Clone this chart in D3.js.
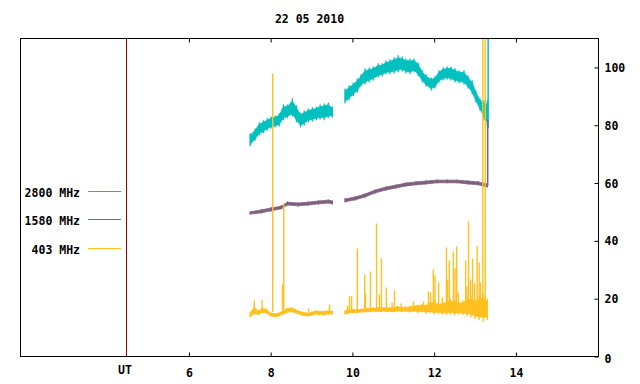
<!DOCTYPE html>
<html>
<head>
<meta charset="utf-8">
<script src="https://cdn.jsdelivr.net/npm/d3@7"></script>
<style>
  body { margin: 0; background: #fff }
  text { font-family: "DejaVu Sans Mono", monospace; font-weight: bold; font-size: 11.5px; fill: #000 }
</style>
</head>
<body>
<svg id="chart" width="640" height="384"></svg>
<script>
const title       = '22 05 2010'
const hourTicks   = [6, 8, 10, 12, 14]
const valueTicks  = [0, 20, 40, 60, 80, 100]
const utHour      = 4.45
const legendNames = ['2800 MHz', '1580 MHz', '403 MHz']
const colors      = ['#00c0c0', '#7f6080', '#ffc020']

// [hour, low, high]  -- null marks the data gap
const f2800 = [
  [7.50, 72.7, 77.2], [7.62, 74.7, 78.9], [7.72, 76.5, 81.0], [7.82, 77.2, 81.7],
  [7.92, 78.2, 82.4], [8.01, 78.9, 83.0], [8.11, 79.2, 83.4], [8.21, 79.6, 84.1],
  [8.31, 81.7, 87.2], [8.41, 82.4, 87.2], [8.53, 83.0, 89.3], [8.63, 81.0, 86.9],
  [8.73, 79.2, 84.4], [8.82, 79.9, 85.1], [8.92, 81.0, 85.8], [9.02, 81.3, 86.2],
  [9.12, 81.7, 86.5], [9.21, 82.0, 87.2], [9.31, 81.7, 87.5], [9.41, 82.4, 87.9],
  [9.51, 82.7, 86.5],
  null,
  [9.82, 87.5, 92.7], [9.92, 88.6, 93.8], [10.02, 90.0, 94.8], [10.12, 91.3, 96.2],
  [10.21, 93.4, 97.6], [10.31, 94.1, 99.7], [10.41, 94.8, 100.0], [10.51, 95.5, 100.3],
  [10.63, 96.5, 101.4], [10.73, 96.9, 101.4], [10.82, 97.6, 102.4], [10.92, 97.6, 102.8],
  [11.02, 97.9, 103.5], [11.12, 98.3, 104.2], [11.22, 98.6, 103.8], [11.31, 97.9, 103.1],
  [11.41, 97.6, 103.1], [11.51, 98.3, 103.1], [11.61, 96.9, 101.7], [11.71, 94.8, 99.0],
  [11.80, 93.4, 97.6], [11.93, 92.0, 96.5], [12.02, 92.7, 96.9], [12.12, 94.8, 99.0],
  [12.22, 95.5, 100.0], [12.32, 95.8, 100.3], [12.41, 95.5, 100.3], [12.51, 94.8, 99.7],
  [12.61, 94.5, 99.0], [12.73, 94.1, 99.0], [12.83, 92.7, 97.2], [12.93, 90.7, 95.5],
  [13.02, 87.9, 92.0], [13.12, 85.1, 89.3], [13.22, 81.7, 88.6], [13.30, 79.9, 88.6]
]
const f2800Burst = [13.32, 79, 130]

const f1580 = [
  [7.50, 49.1, 50.2], [7.77, 49.5, 50.9], [8.01, 50.2, 51.6], [8.26, 50.9, 52.2],
  [8.41, 52.2, 53.6], [8.67, 51.9, 53.3], [8.92, 52.2, 53.6], [9.17, 52.6, 54.0],
  [9.41, 52.9, 54.3], [9.51, 52.6, 54.0],
  null,
  [9.82, 53.3, 54.7], [10.07, 54.0, 55.4], [10.31, 55.0, 56.4], [10.56, 56.4, 57.8],
  [10.82, 57.4, 58.8], [11.07, 58.1, 59.5], [11.31, 58.8, 60.2], [11.56, 59.2, 60.6],
  [11.80, 59.5, 60.9], [12.07, 59.9, 61.2], [12.32, 59.9, 61.2], [12.56, 59.9, 61.2],
  [12.83, 59.5, 60.9], [13.08, 59.2, 60.6], [13.30, 58.5, 59.9]
]
const f1580Burst = [13.31, 59, 82]

const f403 = [
  [7.50, 13.5, 15.5], [7.60, 14.5, 17.5], [7.70, 14.3, 16.0], [7.80, 15.0, 17.0],
  [7.90, 14.8, 16.5], [8.00, 13.8, 15.2], [8.10, 13.6, 15.0], [8.20, 13.8, 15.2],
  [8.30, 14.5, 16.0], [8.40, 15.0, 16.8], [8.50, 15.3, 17.0], [8.60, 15.0, 16.5],
  [8.70, 14.5, 15.8], [8.80, 14.0, 15.5], [8.90, 13.8, 15.2], [9.00, 14.0, 15.5],
  [9.10, 14.5, 16.0], [9.20, 14.3, 15.8], [9.30, 14.2, 15.8], [9.40, 14.5, 16.0],
  [9.51, 14.5, 15.8],
  null,
  [9.82, 14.5, 16.0], [9.90, 14.8, 16.3], [10.00, 15.0, 16.5], [10.10, 15.0, 16.3],
  [10.20, 15.2, 16.5], [10.30, 15.2, 16.8], [10.40, 15.3, 16.8], [10.50, 15.5, 17.0],
  [10.60, 15.3, 17.0], [10.70, 15.5, 17.2], [10.80, 15.5, 17.0], [10.90, 15.3, 17.0],
  [11.00, 15.3, 17.2], [11.10, 15.5, 17.5], [11.20, 15.3, 17.2], [11.30, 15.5, 17.3],
  [11.40, 15.2, 17.5], [11.50, 15.5, 17.8], [11.60, 15.0, 18.0], [11.70, 15.3, 18.2],
  [11.80, 14.8, 18.0], [11.90, 15.0, 19.0], [12.00, 14.5, 19.5], [12.10, 14.8, 18.5],
  [12.20, 14.5, 19.0], [12.30, 14.3, 19.5], [12.40, 14.5, 20.0], [12.50, 14.2, 19.5],
  [12.60, 14.5, 19.0], [12.70, 14.3, 19.5], [12.80, 13.8, 20.5], [12.90, 13.5, 21.0],
  [13.00, 13.0, 20.0], [13.10, 12.5, 21.0], [13.20, 12.0, 22.0], [13.30, 12.5, 20.0]
]
// [hour, peak]
const f403Spikes = [
  [7.60, 19.4], [7.79, 19.6], [8.05, 97.9], [8.29, 24.9], [8.32, 53.0], [8.93, 16.6],
  [9.44, 18.0], [9.88, 17.6], [9.93, 20.8], [9.98, 20.8], [10.12, 37.4], [10.30, 28.4],
  [10.32, 21.8], [10.44, 29.4], [10.59, 46.0], [10.66, 21.5], [10.71, 33.9], [10.83, 23.9],
  [10.97, 18.7], [11.03, 22.8], [11.19, 18.3], [11.49, 19.0], [11.74, 19.0], [11.86, 22.5],
  [11.91, 22.1], [11.98, 30.1], [12.02, 28.0], [12.11, 25.6], [12.20, 20.4], [12.30, 37.7],
  [12.33, 26.6], [12.37, 33.2], [12.42, 19.0], [12.47, 36.3], [12.51, 30.4], [12.55, 38.1],
  [12.59, 22.1], [12.77, 33.2], [12.80, 24.2], [12.84, 46.7], [12.89, 26.6], [12.94, 33.9],
  [12.99, 25.3], [13.05, 38.1], [13.10, 32.5], [13.13, 25.6], [13.19, 130], [13.25, 130]
]

let svg = d3.select('#chart'),
    x   = d3.scaleLinear().domain([1.88, 16.02]).range([20.5, 598.5]),
    y   = d3.scaleLinear().domain([0, 110]).range([356.5, 38.5])

svg.append('clipPath').attr('id', 'plot')
  .append('rect')
  .attr('x', x.range()[0]).attr('y', y.range()[1])
  .attr('width', x.range()[1] - x.range()[0])
  .attr('height', y.range()[0] - y.range()[1])

// UT marker
svg.append('line')
  .attr('x1', Math.round(x(utHour)) + 0.5).attr('x2', Math.round(x(utHour)) + 0.5)
  .attr('y1', y.range()[0]).attr('y2', y.range()[1])
  .attr('stroke', '#a00000')

let g = svg.append('g').attr('clip-path', 'url(#plot)')

// core of the noisy band: the middle part of each low/high envelope
let core = d3.area()
  .defined(d => d !== null)
  .x(d => x(d[0]))
  .y0(d => y(d[1] + (d[2] - d[1]) * 0.15))
  .y1(d => y(d[2] - (d[2] - d[1]) * 0.15))

function drawSeries(data, burst, color, whiskers) {
  g.append('path').datum(data)
    .attr('d', core).attr('fill', color)
    .attr('stroke', color).attr('stroke-width', 0.8)
  // the full low..high excursion at each sample
  if (whiskers)
    g.selectAll(null)
      .data(data.filter(d => d !== null))
      .enter()
      .append('line')
      .attr('x1', d => x(d[0])).attr('x2', d => x(d[0]))
      .attr('y1', d => y(d[1])).attr('y2', d => y(d[2]))
      .attr('stroke', color).attr('stroke-width', 1.3)
  if (burst)
    g.append('line')
      .attr('x1', x(burst[0])).attr('x2', x(burst[0]))
      .attr('y1', y(burst[1])).attr('y2', y(burst[2]))
      .attr('stroke', color).attr('stroke-width', 1.5)
}

drawSeries(f2800, f2800Burst, colors[0], true)
drawSeries(f1580, f1580Burst, colors[1], true)
drawSeries(f403, null, colors[2], true)

g.selectAll('line.spike')
  .data(f403Spikes)
  .enter()
  .append('line')
  .attr('class', 'spike')
  .attr('x1', d => x(d[0])).attr('x2', d => x(d[0]))
  .attr('y1', y(15.5)).attr('y2', d => y(d[1]))
  .attr('stroke', colors[2]).attr('stroke-width', 1.4)

// frame
svg.append('rect')
  .attr('x', x.range()[0]).attr('y', y.range()[1])
  .attr('width', x.range()[1] - x.range()[0])
  .attr('height', y.range()[0] - y.range()[1])
  .attr('fill', 'none').attr('stroke', '#000')

// axes
let axBottom = svg.append('g')
  .attr('transform', `translate(0,${y.range()[0]})`)
  .call(d3.axisBottom(x).tickValues(hourTicks).tickSizeInner(-4).tickSizeOuter(0).tickPadding(12))
let axTop = svg.append('g')
  .attr('transform', `translate(0,${y.range()[1]})`)
  .call(d3.axisTop(x).tickValues(hourTicks).tickSizeInner(-4).tickSizeOuter(0).tickFormat(''))
let axRight = svg.append('g')
  .attr('transform', `translate(${x.range()[1]},0)`)
  .call(d3.axisRight(y).tickValues(valueTicks).tickSizeInner(-4).tickSizeOuter(0).tickPadding(6))

;[axBottom, axTop, axRight].forEach(a => {
  a.select('.domain').remove()
  a.selectAll('line').attr('stroke', '#000')
  a.selectAll('text').attr('font-family', null).attr('font-size', null).attr('fill', '#000')
})
axRight.selectAll('text').attr('dy', d => d === 0 ? '0.55em' : '0.35em')

svg.append('text')
  .attr('x', Math.round(x(utHour)) - 1).attr('y', 373.5)
  .attr('text-anchor', 'middle').text('UT')

svg.append('text')
  .attr('x', (x.range()[0] + x.range()[1]) / 2).attr('y', 23)
  .attr('text-anchor', 'middle').text(title)

// legend
let legendY = [191.5, 219.5, 248.5]
let legend = svg.selectAll('g.key')
  .data(legendNames)
  .enter()
  .append('g')
  .attr('class', 'key')
  .attr('transform', (d, i) => `translate(0,${legendY[i]})`)

legend.append('text')
  .attr('x', 80).attr('y', 5)
  .attr('text-anchor', 'end')
  .text(d => d)

legend.append('line')
  .attr('x1', 88).attr('x2', 121)
  .attr('stroke', (d, i) => colors[i])
</script>
</body>
</html>
